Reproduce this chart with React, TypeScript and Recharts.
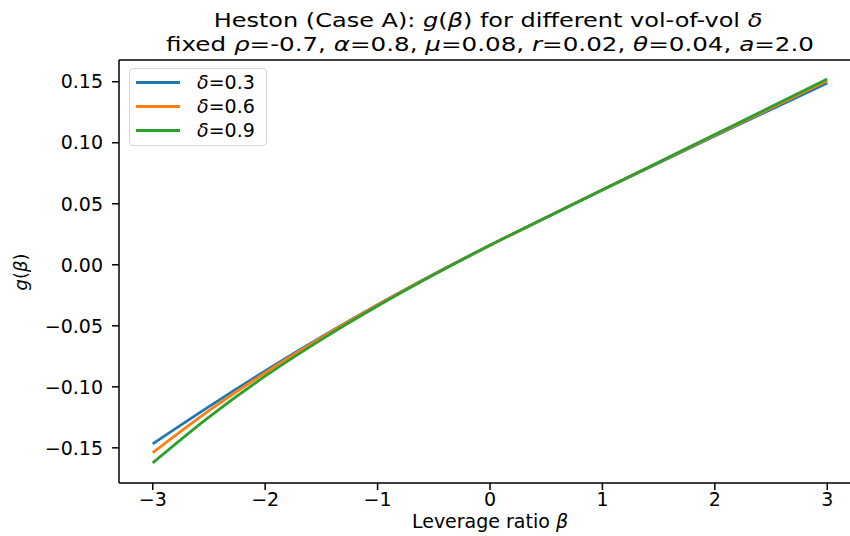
import { LineChart, Line, XAxis, YAxis, ReferenceLine } from "recharts";

// leverage ratio grid and g(beta) for each vol-of-vol value
const beta = [-3, -2.5, -2, -1.5, -1, -0.5, 0, 0.5, 1, 1.5, 2, 2.5, 3];
const gDelta03 = [-0.1467, -0.1162, -0.087, -0.0592, -0.0328, -0.0078, 0.016, 0.0388, 0.0613, 0.0835, 0.1055, 0.1273, 0.1489];
const gDelta06 = [-0.154, -0.1195, -0.0885, -0.0598, -0.033, -0.0078, 0.016, 0.0388, 0.0614, 0.0838, 0.1061, 0.1284, 0.1508];
const gDelta09 = [-0.1623, -0.1248, -0.0913, -0.0613, -0.0338, -0.0082, 0.016, 0.0388, 0.0615, 0.0841, 0.1067, 0.1294, 0.1522];

const xTicks = [-3, -2, -1, 0, 1, 2, 3];
const yTicks = [-0.15, -0.1, -0.05, 0, 0.05, 0.1, 0.15];

const series = [
  { key: "d03", delta: "0.3", color: "#1f77b4", values: gDelta03 },
  { key: "d06", delta: "0.6", color: "#ff7f0e", values: gDelta06 },
  { key: "d09", delta: "0.9", color: "#2ca02c", values: gDelta09 },
];

const X_DOMAIN: [number, number] = [-3.3, 3.3];
const Y_DOMAIN: [number, number] = [-0.1788, 0.1678];

const data = beta.map((b, i) => {
  const row: Record<string, number> = { beta: b };
  series.forEach((s) => (row[s.key] = s.values[i]));
  return row;
});

const FONT = "'DejaVu Sans', sans-serif";
const minus = (s: string) => s.replace("-", "\u2212");

const fmtY = (v: number) => minus(v.toFixed(2));
const fmtX = (v: number) => minus(String(v));

const it = { fontStyle: "italic" as const };

export default function App() {
  return (
    <div style={styles.page}>
      <LineChart
        width={872}
        height={536}
        data={data}
        margin={{ top: 60, right: 11, bottom: 0, left: 0 }}
      >
        <XAxis
          dataKey="beta"
          type="number"
          domain={X_DOMAIN}
          ticks={xTicks}
          tickFormatter={fmtX}
          height={53}
          tickSize={7}
          tickMargin={3}
          axisLine={{ stroke: "#000", strokeWidth: 1.5 }}
          tickLine={{ stroke: "#000", strokeWidth: 1.5 }}
          tick={{ fill: "#000", fontSize: 19, fontFamily: FONT }}
          allowDataOverflow
        />
        <YAxis
          type="number"
          domain={Y_DOMAIN}
          ticks={yTicks}
          tickFormatter={fmtY}
          width={119}
          tickSize={7}
          tickMargin={9}
          axisLine={{ stroke: "#000", strokeWidth: 1.5 }}
          tickLine={{ stroke: "#000", strokeWidth: 1.5 }}
          tick={{ fill: "#000", fontSize: 19, fontFamily: FONT }}
          allowDataOverflow
        />
        <ReferenceLine y={Y_DOMAIN[1]} stroke="#000" strokeWidth={1.5} />
        {series.map((s) => (
          <Line
            key={s.key}
            dataKey={s.key}
            type="monotone"
            stroke={s.color}
            strokeWidth={2.8}
            dot={false}
            isAnimationActive={false}
          />
        ))}
      </LineChart>

      <svg width={850} height={536} style={styles.overlay}>
        <g fontFamily={FONT} fill="#000" textAnchor="middle">
          {/* title glyphs are set a little wide */}
          <text transform="translate(488 27) scale(1.2 1)" fontSize={20}>
            Heston (Case A): <tspan {...it}>g</tspan>(<tspan {...it}>β</tspan>) for different vol-of-vol{" "}
            <tspan {...it}>δ</tspan>
          </text>
          <text transform="translate(490 51) scale(1.23 1)" fontSize={20}>
            fixed <tspan {...it}>ρ</tspan>=-0.7, <tspan {...it}>α</tspan>=0.8, <tspan {...it}>μ</tspan>=0.08,{" "}
            <tspan {...it}>r</tspan>=0.02, <tspan {...it}>θ</tspan>=0.04, <tspan {...it}>a</tspan>=2.0
          </text>
          <text x={490} y={528} fontSize={19}>
            Leverage ratio <tspan {...it}>β</tspan>
          </text>
          <text x={27} y={272} fontSize={18} transform="rotate(-90 27 272)">
            <tspan {...it}>g</tspan>(<tspan {...it}>β</tspan>)
          </text>
        </g>
      </svg>

      <div style={styles.legend}>
        {series.map((s) => (
          <div key={s.key} style={styles.legendRow}>
            <span style={{ ...styles.legendLine, background: s.color }} />
            <span>
              <i>δ</i>=<span>{s.delta}</span>
            </span>
          </div>
        ))}
      </div>
    </div>
  );
}

const styles: Record<string, React.CSSProperties> = {
  page: {
    position: "fixed",
    left: 0,
    top: 0,
    width: 850,
    height: 536,
    overflow: "hidden",
    background: "#fff",
  },
  overlay: { position: "absolute", left: 0, top: 0, pointerEvents: "none" },
  legend: {
    position: "absolute",
    left: 129,
    top: 68,
    width: 136,
    height: 75,
    border: "1px solid #d6d6d6",
    borderRadius: 4,
    background: "rgba(255,255,255,0.8)",
    fontFamily: FONT,
    fontSize: 19,
    paddingTop: 1,
  },
  legendRow: { display: "flex", alignItems: "center", height: 24 },
  legendLine: { display: "inline-block", width: 44, height: 3, marginLeft: 6, marginRight: 17 },
};
